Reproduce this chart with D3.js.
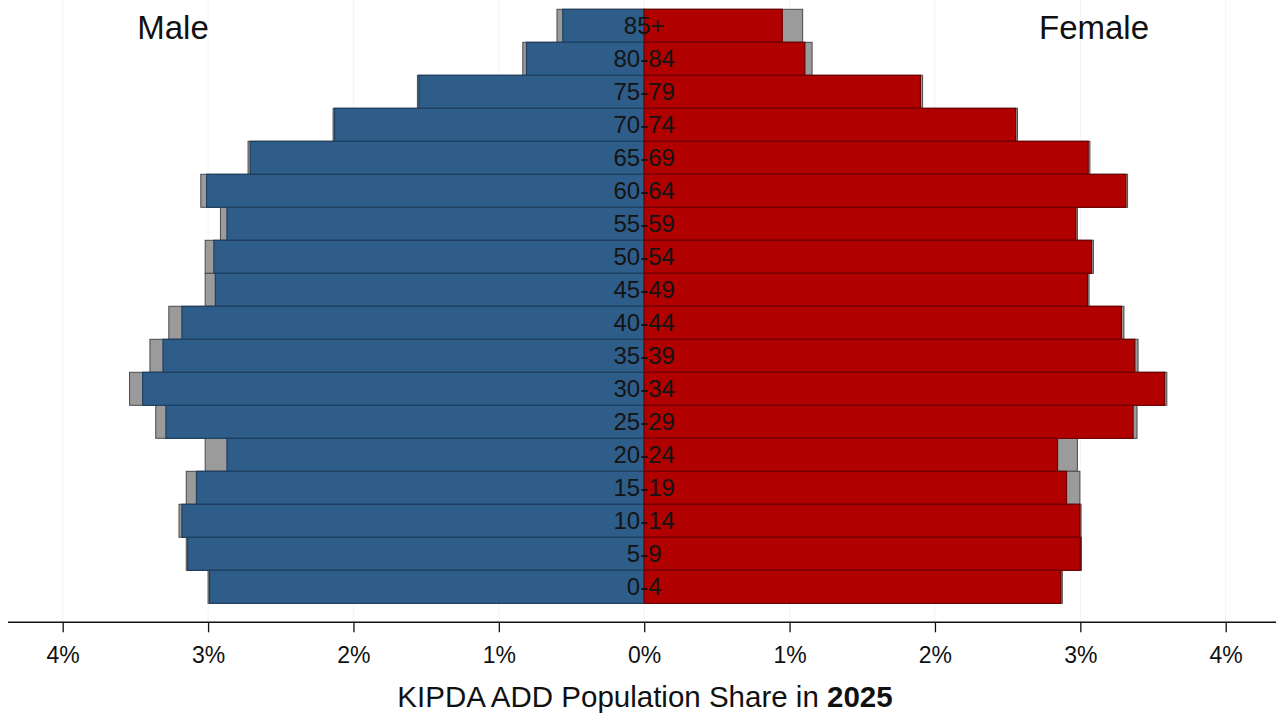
<!DOCTYPE html>
<html>
<head>
<meta charset="utf-8">
<script src="https://cdn.jsdelivr.net/npm/d3@7"></script>
<style>
  html, body { margin: 0; padding: 0; background: #ffffff; }
  svg { display: block; font-family: "Liberation Sans", Arial, sans-serif; }
</style>
</head>
<body>
<svg id="chart" width="1281" height="719"></svg>
<script>
// ---- data (top row to bottom row) ----
const ages = ["85+","80-84","75-79","70-74","65-69","60-64","55-59","50-54","45-49","40-44","35-39","30-34","25-29","20-24","15-19","10-14","5-9","0-4"];
const male      = [0.56, 0.81, 1.55, 2.13, 2.71, 3.01, 2.87, 2.96, 2.95, 3.18, 3.31, 3.45, 3.29, 2.87, 3.08, 3.18, 3.14, 2.99];
const maleRef   = [0.60, 0.835, 1.56, 2.14, 2.725, 3.05, 2.915, 3.02, 3.02, 3.27, 3.40, 3.54, 3.36, 3.02, 3.15, 3.20, 3.15, 3.00];
const female    = [0.95, 1.105, 1.90, 2.555, 3.054, 3.313, 2.969, 3.077, 3.049, 3.283, 3.375, 3.58, 3.363, 2.843, 2.905, 2.997, 3.00, 2.866];
const femaleRef = [1.09, 1.155, 1.915, 2.568, 3.066, 3.325, 2.98, 3.09, 3.06, 3.30, 3.397, 3.595, 3.39, 2.98, 2.997, 3.005, 3.008, 2.876];
const tickValues = [-4, -3, -2, -1, 0, 1, 2, 3, 4];
const titleText = "KIPDA ADD Population Share in ";
const titleYear = "2025";
const leftLabel = "Male";
const rightLabel = "Female";

// ---- layout ----
const svg = d3.select("#chart");
const x = d3.scaleLinear().domain([-4, 4]).range([62.7, 1225.7]);
const y = d3.scaleBand().domain(ages).range([9.3, 603.3]).padding(0);
const axisY = 622.3;

const colMale = "#2f5d8a", colFemale = "#b00000", colRef = "#9b9b9b";

// faint gridlines
svg.append("g").selectAll("line").data(tickValues).join("line")
  .attr("x1", d => x(d)).attr("x2", d => x(d))
  .attr("y1", 0).attr("y2", axisY)
  .attr("stroke", "#f3f3f3").attr("stroke-width", 1);

const rows = ages.map((a, i) => ({age: a, m: male[i], mr: maleRef[i], f: female[i], fr: femaleRef[i]}));

const g = svg.append("g");
// reference (gray) bars behind
g.selectAll("rect.mr").data(rows).join("rect").attr("class", "mr")
  .attr("x", d => x(-d.mr)).attr("width", d => x(0) - x(-d.mr))
  .attr("y", d => y(d.age)).attr("height", y.bandwidth())
  .attr("fill", colRef).attr("stroke", "#4a4a4a").attr("stroke-width", 1);
g.selectAll("rect.fr").data(rows).join("rect").attr("class", "fr")
  .attr("x", x(0)).attr("width", d => x(d.fr) - x(0))
  .attr("y", d => y(d.age)).attr("height", y.bandwidth())
  .attr("fill", colRef).attr("stroke", "#4a4a4a").attr("stroke-width", 1);
// main bars
g.selectAll("rect.m").data(rows).join("rect").attr("class", "m")
  .attr("x", d => x(-d.m)).attr("width", d => x(0) - x(-d.m))
  .attr("y", d => y(d.age)).attr("height", y.bandwidth())
  .attr("fill", colMale).attr("stroke", "#1e3f60").attr("stroke-width", 1.2);
g.selectAll("rect.f").data(rows).join("rect").attr("class", "f")
  .attr("x", x(0)).attr("width", d => x(d.f) - x(0))
  .attr("y", d => y(d.age)).attr("height", y.bandwidth())
  .attr("fill", colFemale).attr("stroke", "#6e0000").attr("stroke-width", 1.2);

// age labels
svg.append("g").selectAll("text").data(ages).join("text")
  .attr("x", x(0)).attr("y", d => y(d) + y.bandwidth() / 2)
  .attr("dy", "0.36em")
  .attr("text-anchor", "middle")
  .attr("font-size", 24).attr("fill", "#141414")
  .text(d => d);

// axis
const axis = d3.axisBottom(x).tickValues(tickValues)
  .tickFormat(d => Math.abs(d) + "%").tickSize(10).tickPadding(14);
const ax = svg.append("g").attr("transform", `translate(0,${axisY})`).call(axis);
ax.select(".domain").remove();
ax.selectAll(".tick line").attr("stroke", "#111").attr("stroke-width", 1.3);
ax.selectAll(".tick text").attr("font-size", 23).attr("fill", "#111")
  .attr("font-family", "'Liberation Sans', Arial, sans-serif");
svg.append("line").attr("x1", 8).attr("x2", 1276).attr("y1", axisY).attr("y2", axisY)
  .attr("stroke", "#111").attr("stroke-width", 1.5);

// axis title
const t = svg.append("text").attr("x", 645).attr("y", 707).attr("text-anchor", "middle")
  .attr("font-size", 29.5).attr("fill", "#111");
t.append("tspan").text(titleText);
t.append("tspan").attr("font-weight", "bold").text(titleYear);

// side labels
svg.append("text").attr("x", 173).attr("y", 39).attr("text-anchor", "middle")
  .attr("font-size", 33).attr("fill", "#111").text(leftLabel);
svg.append("text").attr("x", 1094).attr("y", 39).attr("text-anchor", "middle")
  .attr("font-size", 33).attr("fill", "#111").text(rightLabel);
</script>
</body>
</html>
